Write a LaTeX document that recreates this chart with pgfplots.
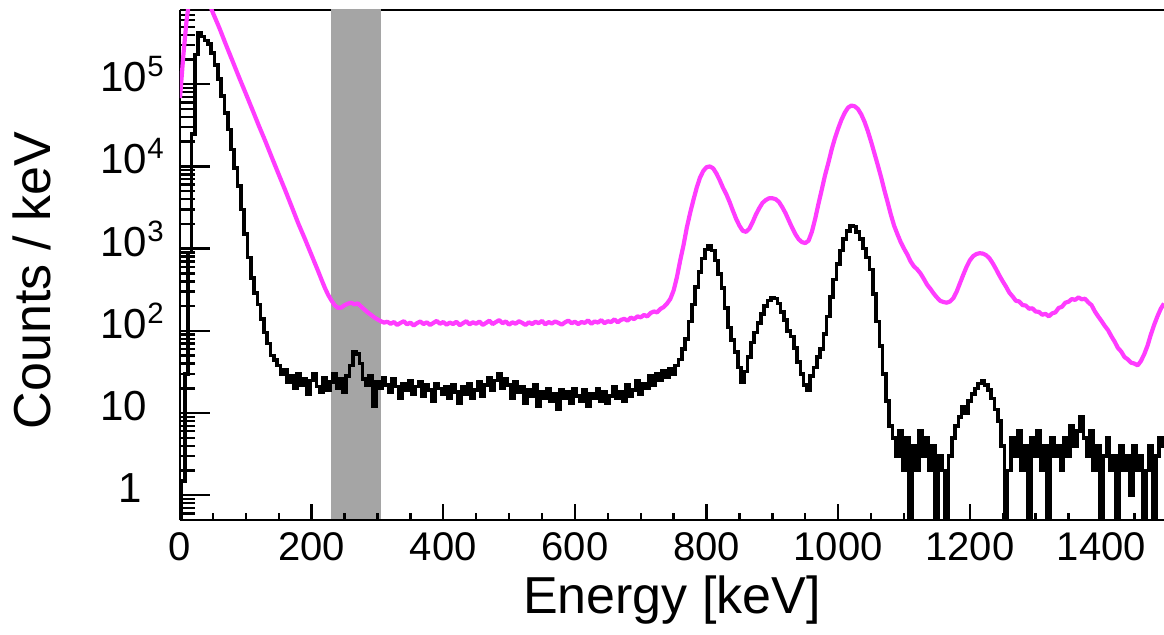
\documentclass[border=0pt]{standalone}
\usepackage{fontspec}
\setmainfont{Liberation Sans}
\usepackage{pgfplots}
\pgfplotsset{compat=1.18}
\definecolor{mag}{RGB}{255,60,255}
\definecolor{band}{RGB}{165,165,165}
\begin{document}
\begin{tikzpicture}
\useasboundingbox (-90pt,-57pt) rectangle (492pt,260pt);
\begin{axis}[
  at={(0pt,0pt)}, anchor=south west,
  scale only axis, width=492pt, height=255pt,
  xmin=0, xmax=1495, ymode=log, ymin=0.5, ymax=8e5,
  axis x line*=box, axis y line*=left,
  x axis line style={-}, y axis line style={-},
  xtick=\empty,
  ytick={1,10,100,1000,10000,100000},
  yticklabels={\hspace*{6pt}1,10,10\smash{\rlap{\textsuperscript{2}}},10\smash{\rlap{\textsuperscript{3}}},10\smash{\rlap{\textsuperscript{4}}},10\smash{\rlap{\textsuperscript{5}}}},
  minor ytick={0.6,0.7,0.8,0.9,2,3,4,5,6,7,8,9,20,30,40,50,60,70,80,90,200,300,400,500,600,700,800,900,2000,3000,4000,5000,6000,7000,8000,9000,20000,30000,40000,50000,60000,70000,80000,90000,200000,300000,400000,500000,600000,700000},
  tick align=inside,
  major tick length=15pt, minor tick length=7.5pt,
  tick style={line width=1.2pt, black},
  axis line style={line width=1.4pt},
  yticklabel style={anchor=center, xshift=-28pt, yshift=3.5pt, font=\fontsize{21}{21}\selectfont},
  ylabel={Counts / keV},
  ylabel style={at={(axis description cs:-0.1504,0.47)}, anchor=center, font=\fontsize{26}{26}\selectfont},
]
\addplot[fill=band, draw=none] coordinates {(230,0.3) (230,2e6) (305,2e6) (305,0.3)};
% magenta spectrum
\addplot[mag, line width=2.1pt, line join=round] table[row sep=\\] {
x y\\
0 68000\\ 5 220000\\ 10 600000\\ 15 1200000\\ 20 2000000\\ 30 2500000\\ 40 1600000\\ 48 810000\\
50 740000\\ 60 480000\\ 70 300000\\ 80 190000\\ 90 120000\\ 100 77000\\ 110 49000\\ 120 31000\\
130 20000\\ 140 12600\\ 150 8000\\ 160 5100\\ 170 3200\\ 180 2000\\ 190 1300\\ 200 830\\ 210 530\\
215 420\\ 220 335\\ 225 275\\ 230 235\\ 235 205\\ 240 190\\ 245 192\\ 250 205\\ 255 214\\ 260 220\\
265 210\\ 270 216\\ 275 198\\ 280 182\\ 285 168\\ 290 157\\ 295 146\\ 300 138\\ 305 131\\ 310 126\\ 315 129\\
320 122\\ 325 128\\ 330 118\\ 335 125\\ 340 131\\ 345 120\\ 350 126\\ 355 116\\ 360 124\\ 365 130\\
370 121\\ 375 127\\ 380 118\\ 385 125\\ 390 132\\ 395 122\\ 400 128\\ 405 119\\ 410 126\\ 415 121\\
420 129\\ 425 117\\ 430 124\\ 435 131\\ 440 120\\ 445 127\\ 450 122\\ 455 130\\ 460 118\\ 465 125\\
470 133\\ 475 121\\ 480 128\\ 485 135\\ 490 124\\ 495 130\\ 500 119\\ 505 127\\ 510 122\\ 515 131\\
520 125\\ 525 118\\ 530 127\\ 535 121\\ 540 129\\ 545 124\\ 550 132\\ 555 120\\ 560 128\\ 565 123\\
570 130\\ 575 125\\ 580 119\\ 585 127\\ 590 133\\ 595 124\\ 600 129\\ 605 121\\ 610 128\\ 615 125\\
620 134\\ 625 122\\ 630 130\\ 635 126\\ 640 135\\ 645 124\\ 650 131\\ 655 128\\ 660 138\\ 665 127\\
670 136\\ 675 140\\ 680 133\\ 685 145\\ 690 139\\ 695 150\\ 700 146\\ 705 156\\ 710 150\\ 715 165\\
720 172\\ 725 168\\ 730 185\\ 735 195\\ 740 215\\ 745 245\\ 750 310\\ 755 450\\ 760 720\\ 765 1100\\
770 1800\\ 775 2700\\ 780 3900\\ 785 5500\\ 790 7300\\ 795 8800\\ 800 9800\\ 805 10000\\ 810 9500\\
815 8200\\ 820 6800\\ 825 5500\\ 830 4600\\ 835 3700\\ 840 2900\\ 845 2300\\ 850 1900\\ 855 1650\\
860 1600\\ 865 1750\\ 870 2100\\ 875 2600\\ 880 3100\\ 885 3600\\ 890 3900\\ 895 4100\\ 900 4100\\
905 4000\\ 910 3700\\ 915 3200\\ 920 2700\\ 925 2200\\ 930 1800\\ 935 1500\\ 940 1300\\ 945 1200\\
950 1170\\ 955 1250\\ 960 1600\\ 965 2300\\ 970 3500\\ 975 5200\\ 980 7800\\ 985 11000\\ 990 16000\\
995 22000\\ 1000 29000\\ 1005 37000\\ 1010 45000\\ 1015 52000\\ 1020 55000\\ 1025 54000\\ 1030 50000\\
1035 43000\\ 1040 35000\\ 1045 27000\\ 1050 20000\\ 1055 14500\\ 1060 10500\\ 1065 7500\\ 1070 5200\\
1075 3700\\ 1080 2600\\ 1085 1900\\ 1090 1500\\ 1095 1200\\ 1100 1000\\ 1105 850\\ 1110 700\\ 1115 610\\
1120 560\\ 1125 500\\ 1130 430\\ 1135 365\\ 1140 325\\ 1145 285\\ 1150 255\\ 1155 232\\ 1160 224\\
1165 220\\ 1170 228\\ 1175 250\\ 1180 300\\ 1185 380\\ 1190 480\\ 1195 600\\ 1200 720\\ 1205 810\\
1210 860\\ 1215 880\\ 1220 870\\ 1225 830\\ 1230 760\\ 1235 660\\ 1240 560\\ 1245 470\\ 1250 400\\
1255 345\\ 1260 292\\ 1265 262\\ 1270 232\\ 1275 228\\ 1280 206\\ 1285 203\\ 1290 186\\ 1295 188\\
1300 172\\ 1305 170\\ 1310 157\\ 1315 161\\ 1320 150\\ 1325 163\\ 1330 168\\ 1335 190\\ 1340 196\\
1345 220\\ 1350 226\\ 1355 244\\ 1360 238\\ 1365 255\\ 1370 242\\ 1375 246\\ 1380 222\\ 1385 205\\
1390 172\\ 1395 150\\ 1400 132\\ 1405 115\\ 1410 102\\ 1415 86\\ 1420 74\\ 1425 62\\ 1430 56\\
1435 48\\ 1440 45\\ 1445 41\\ 1450 40\\ 1455 38\\ 1460 43\\ 1465 52\\ 1470 66\\ 1475 90\\ 1480 118\\
1485 150\\ 1490 185\\ 1495 215\\
};
% black spectrum
\addplot[black, line width=1.8pt, const plot mark mid] table[row sep=\\] {
x y\\
0 0.2\\ 5 1.5\\ 10 30\\ 15 900\\ 20 25000\\ 25 230000\\ 30 420000\\ 35 380000\\ 40 340000\\ 45 310000\\
50 240000\\ 55 170000\\ 60 115000\\ 65 72000\\ 70 45000\\ 75 28000\\ 80 16000\\ 85 9500\\ 90 5800\\
95 3000\\ 100 1500\\ 105 780\\ 110 440\\ 115 290\\ 120 210\\ 125 140\\ 130 95\\ 135 70\\ 140 50\\
145 44\\ 150 38\\ 155 30\\ 160 34\\ 165 24\\ 170 28\\ 175 20\\ 180 30\\ 185 22\\ 190 26\\ 195 17\\
200 25\\ 205 30\\ 210 21\\ 215 18\\ 220 27\\ 225 19\\ 230 24\\ 235 30\\ 240 20\\ 245 26\\ 250 18\\
255 28\\ 260 38\\ 265 55\\ 270 52\\ 275 40\\ 280 26\\ 285 22\\ 290 28\\ 295 12\\ 300 24\\ 305 20\\
310 27\\ 315 22\\ 320 18\\ 325 26\\ 330 21\\ 335 15\\ 340 23\\ 345 19\\ 350 25\\ 355 17\\ 360 21\\
365 24\\ 370 16\\ 375 22\\ 380 19\\ 385 14\\ 390 23\\ 395 20\\ 400 17\\ 405 21\\ 410 15\\ 415 22\\
420 18\\ 425 13\\ 430 21\\ 435 17\\ 440 23\\ 445 15\\ 450 19\\ 455 24\\ 460 16\\ 465 22\\ 470 27\\
475 19\\ 480 25\\ 485 30\\ 490 20\\ 495 26\\ 500 22\\ 505 15\\ 510 24\\ 515 18\\ 520 21\\ 525 13\\
530 19\\ 535 16\\ 540 22\\ 545 12\\ 550 18\\ 555 15\\ 560 20\\ 565 14\\ 570 17\\ 575 11\\ 580 19\\
585 15\\ 590 18\\ 595 13\\ 600 20\\ 605 16\\ 610 14\\ 615 19\\ 620 12\\ 625 17\\ 630 15\\ 635 20\\
640 14\\ 645 18\\ 650 13\\ 655 16\\ 660 21\\ 665 15\\ 670 18\\ 675 14\\ 680 22\\ 685 16\\ 690 19\\
695 25\\ 700 17\\ 705 23\\ 710 20\\ 715 28\\ 720 22\\ 725 30\\ 730 25\\ 735 33\\ 740 27\\ 745 35\\
750 30\\ 755 38\\ 760 45\\ 765 60\\ 770 80\\ 775 130\\ 780 210\\ 785 340\\ 790 520\\ 795 760\\
800 980\\ 805 1070\\ 810 950\\ 815 720\\ 820 490\\ 825 330\\ 830 190\\ 835 110\\ 840 78\\ 845 55\\
850 36\\ 855 24\\ 860 32\\ 865 48\\ 870 72\\ 875 95\\ 880 125\\ 885 160\\ 890 200\\ 895 235\\
900 255\\ 905 248\\ 910 215\\ 915 170\\ 920 135\\ 925 100\\ 930 85\\ 935 62\\ 940 42\\ 945 30\\
950 22\\ 955 19\\ 960 28\\ 965 36\\ 970 48\\ 975 60\\ 980 92\\ 985 150\\ 990 260\\ 995 420\\
1000 650\\ 1005 950\\ 1010 1300\\ 1015 1650\\ 1020 1900\\ 1025 1850\\ 1030 1600\\ 1035 1300\\
1040 1000\\ 1045 780\\ 1050 560\\ 1055 280\\ 1060 130\\ 1065 65\\ 1070 30\\ 1075 14\\ 1080 7\\
1085 5\\ 1090 3\\ 1095 6\\ 1100 2\\ 1105 5\\ 1110 0.1\\ 1115 4\\ 1120 2\\ 1125 6\\ 1130 3\\ 1135 5\\
1140 2\\ 1145 4\\ 1150 0.1\\ 1155 3\\ 1160 2\\ 1165 0.1\\ 1170 3\\ 1175 5\\ 1180 7\\ 1185 9\\
1190 12\\ 1195 10\\ 1200 14\\ 1205 17\\ 1210 20\\ 1215 23\\ 1220 25\\ 1225 22\\ 1230 19\\ 1235 15\\
1240 11\\ 1245 8\\ 1250 4\\ 1255 0.1\\ 1260 2\\ 1265 5\\ 1270 3\\ 1275 6\\ 1280 2\\ 1285 4\\ 1290 0.1\\
1295 5\\ 1300 3\\ 1305 6\\ 1310 2\\ 1315 4\\ 1320 0.1\\ 1325 5\\ 1330 3\\ 1335 4\\ 1340 2\\ 1345 5\\
1350 3\\ 1355 7\\ 1360 4\\ 1365 6\\ 1370 9\\ 1375 5\\ 1380 3\\ 1385 6\\ 1390 2\\ 1395 4\\ 1400 0.1\\
1405 3\\ 1410 5\\ 1415 2\\ 1420 3\\ 1425 0.1\\ 1430 4\\ 1435 2\\ 1440 3\\ 1445 1\\ 1450 4\\ 1455 2\\
1460 3\\ 1465 0.1\\ 1470 2\\ 1475 4\\ 1480 0.1\\ 1485 3\\ 1490 5\\ 1495 4\\
};
\end{axis}
\begin{axis}[
  at={(0pt,0pt)}, anchor=south west,
  scale only axis, width=492pt, height=255pt,
  xmin=0, xmax=1495, ymin=0, ymax=1,
  axis x line*=bottom, axis y line=none,
  x axis line style={-},
  xtick={0,200,400,600,800,1000,1200,1400},
  xticklabels={0,200,400,600,800,1000,1200,1400},
  minor xtick={50,100,150,250,300,350,450,500,550,650,700,750,850,900,950,1050,1100,1150,1250,1300,1350,1450},
  tick align=inside,
  major tick length=8pt, minor tick length=3.5pt,
  tick style={line width=1.2pt, black},
  axis line style={line width=1.4pt},
  xticklabel style={anchor=center, yshift=-13.5pt, font=\fontsize{20}{20}\selectfont},
  xlabel={Energy [keV]},
  xlabel style={at={(axis description cs:0.5,-0.157)}, anchor=center, font=\fontsize{26}{26}\selectfont},
]
\addplot[draw=none] coordinates {(0,0.5)};
\end{axis}
\end{tikzpicture}
\end{document}
